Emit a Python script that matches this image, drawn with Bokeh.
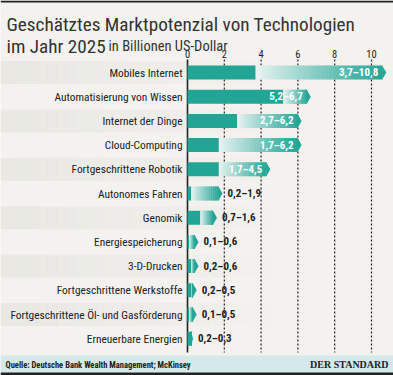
from bokeh.plotting import figure
from bokeh.models import Range1d
from bokeh.core.properties import value
from bokeh.embed import file_html
from bokeh.resources import INLINE

# ---------------- data ----------------
categories = ["Mobiles Internet", "Automatisierung von Wissen", "Internet der Dinge",
              "Cloud-Computing", "Fortgeschrittene Robotik", "Autonomes Fahren",
              "Genomik", "Energiespeicherung", "3-D-Drucken",
              "Fortgeschrittene Werkstoffe", "Fortgeschrittene Öl- und Gasförderung",
              "Erneuerbare Energien"]
low = [3.7, 5.2, 2.7, 1.7, 1.7, 0.2, 0.7, 0.1, 0.2, 0.2, 0.1, 0.2]
high = [10.8, 6.7, 6.2, 6.2, 4.5, 1.9, 1.6, 0.6, 0.6, 0.5, 0.5, 0.3]
range_labels = ["3,7–10,8", "5,2–6,7", "2,7–6,2", "1,7–6,2", "1,7–4,5", "0,2–1,9",
                "0,7–1,6", "0,1–0,6", "0,2–0,6", "0,2–0,5", "0,1–0,5", "0,2–0,3"]
ticks = [0, 2, 4, 6, 8, 10]
tick_labels = ["0", "2", "4", "6", "8", "10"]
title_line1 = "Geschätztes Marktpotenzial von Technologien"
title_line2 = "im Jahr 2025"
title_unit = "in Billionen US-Dollar"
source_note = "Quelle: Deutsche Bank Wealth Management; McKinsey"
brand = "DER STANDARD"

# ---------------- styling / layout ----------------
W, H = 393, 375
X0, SX = 187.0, 18.4      # pixel of value 0, pixels per unit
Y0, SY = 72.0, 24.2       # pixel of first row centre, pixels per row
BG = "#f3f2ee"
TEAL = (35, 165, 150)
LIGHT = (236, 245, 243)
DARK = "#222222"
FONT = "Liberation Sans Narrow, Roboto Condensed, Arial Narrow, sans-serif"
SERIF = "Liberation Serif, DejaVu Serif, serif"


def dx(px):
    return (px - X0) / SX


def dy(py):
    return (py - Y0) / SY


def hexc(c):
    return "#%02x%02x%02x" % tuple(int(round(v)) for v in c)


def mix(a, b, t):
    return tuple(a[i] + (b[i] - a[i]) * t for i in range(3))


p = figure(width=W, height=H, x_range=Range1d(dx(0), dx(W)), y_range=Range1d(dy(H), dy(0)),
           output_backend="svg", toolbar_location=None, min_border=0,
           x_axis_location=None, y_axis_location=None,
           background_fill_color=BG, border_fill_color=BG, outline_line_color=None)
p.grid.grid_line_color = None

n = len(categories)
rows = list(range(n))

# alternating row stripes fading to the right
half_row = 11.5 / SY
steps = 30
for i in rows:
    if i % 2 == 0:
        L, R, T, B, A = [], [], [], [], []
        for k in range(steps):
            x_a = dx(0 + 280 * k / steps)
            x_b = dx(0 + 280 * (k + 1) / steps) + 0.02
            L.append(x_a); R.append(x_b)
            T.append(i - half_row); B.append(i + half_row)
            A.append(0.32 * (1 - k / steps) ** 1.1)
        p.quad(left=L, right=R, top=T, bottom=B, fill_color="#d4d3cd",
               fill_alpha=A, line_color=None)

# grid lines and axis line
grid_top, grid_bot = dy(59), dy(352)
for t in ticks[1:]:
    p.segment(x0=[t], y0=[grid_top], x1=[t], y1=[grid_bot], line_color=DARK,
              line_width=1.2, line_dash="2 2")
p.segment(x0=[0], y0=[grid_top], x1=[0], y1=[grid_bot], line_color=DARK, line_width=1.6)

# tick labels
p.text(x=ticks, y=[dy(53)] * len(ticks), text=tick_labels, text_font=value(FONT),
       text_font_size="10.5px", text_align="center", text_baseline="middle", text_color=DARK)

# bars
hb = 7.0 / SY
tip = 4.0 / SX
for i in rows:
    lo, hi = low[i], high[i]
    p.quad(left=[0], right=[lo + 0.01], top=[i - hb], bottom=[i + hb],
           fill_color=hexc(TEAL), line_color=None)
    g_end = max(hi - tip, lo)
    ns = 40
    L, R, C = [], [], []
    for k in range(ns):
        a = lo + (g_end - lo) * k / ns
        b = lo + (g_end - lo) * (k + 1) / ns
        L.append(a); R.append(b + 0.02)
        C.append(hexc(mix(LIGHT, TEAL, ((k + 0.5) / ns) ** 0.9)))
    p.quad(left=L, right=R, top=[i - hb] * ns, bottom=[i + hb] * ns,
           fill_color=C, line_color=None)
    p.patch(x=[g_end, hi, g_end], y=[i - hb, i, i + hb], fill_color=hexc(TEAL),
            line_color=None)

# value labels
in_x, in_y, in_t, out_x, out_y, out_t = [], [], [], [], [], []
for i in rows:
    if high[i] > 3:
        in_x.append(high[i]); in_y.append(i); in_t.append(range_labels[i])
    else:
        out_x.append(high[i]); out_y.append(i); out_t.append(range_labels[i])
p.text(x=in_x, y=in_y, text=in_t, x_offset=-8, text_font=value(FONT),
       text_font_size="11px", text_font_style="bold", text_color="white",
       text_align="right", text_baseline="middle")
p.text(x=out_x, y=out_y, text=out_t, x_offset=5, text_font=value(FONT),
       text_font_size="11px", text_font_style="bold", text_color=DARK,
       text_align="left", text_baseline="middle")

# category labels
p.text(x=[dx(182)] * n, y=rows, text=categories, text_font=value(FONT),
       text_font_size="11.4px", text_color=DARK, text_align="right",
       text_baseline="middle")

# titles
p.text(x=[dx(6)], y=[dy(24)], text=[title_line1], text_font=value(FONT),
       text_font_size="19.2px", text_color="#333333", text_align="left",
       text_baseline="alphabetic")
p.text(x=[dx(6)], y=[dy(46)], text=[title_line2], text_font=value(FONT),
       text_font_size="19.2px", text_color="#333333", text_align="left",
       text_baseline="alphabetic")
p.text(x=[dx(108)], y=[dy(46)], text=[title_unit], text_font=value(FONT),
       text_font_size="14.5px", text_color="#333333", text_align="left",
       text_baseline="alphabetic")

# top and bottom rules, footer band
p.quad(left=[dx(0)], right=[dx(W)], top=[dy(0)], bottom=[dy(2)], fill_color=DARK,
       line_color=None)
p.quad(left=[dx(0)], right=[dx(W)], top=[dy(355)], bottom=[dy(372)], fill_color="#d5e9ec",
       line_color=None)
p.quad(left=[dx(0)], right=[dx(W)], top=[dy(372)], bottom=[dy(H)], fill_color=DARK,
       line_color=None)
p.text(x=[dx(5)], y=[dy(364)], text=[source_note], text_font=value(FONT),
       text_font_size="8.5px", text_font_style="bold", text_color=DARK,
       text_align="left", text_baseline="middle")
p.text(x=[dx(388)], y=[dy(364)], text=[brand], text_font=value(SERIF),
       text_font_size="10px", text_font_style="bold", text_color=DARK,
       text_align="right", text_baseline="middle")

open("out.html", "w").write(file_html(p, INLINE))
